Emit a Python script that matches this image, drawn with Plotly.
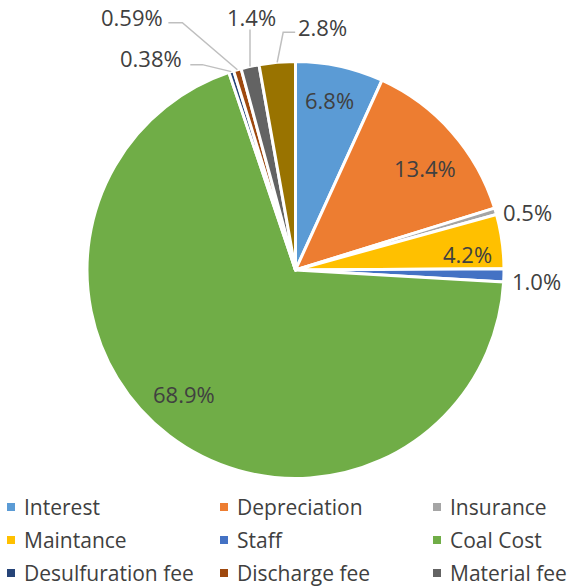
import math
import plotly.graph_objects as go

# Cost structure shares (%), listed clockwise from 12 o'clock
categories = ["Interest", "Depreciation", "Insurance", "Maintance", "Staff",
              "Coal Cost", "Desulfuration fee", "Discharge fee", "Material fee",
              "Other fee"]
shares = [6.8, 13.4, 0.5, 4.2, 1.0, 68.9, 0.38, 0.59, 1.4, 2.8]
share_labels = ["6.8%", "13.4%", "0.5%", "4.2%", "1.0%", "68.9%",
                "0.38%", "0.59%", "1.4%", "2.8%"]
legend_names = categories[:9]

colors = ["#5B9BD5", "#ED7D31", "#A5A5A5", "#FFC000", "#4472C4",
          "#70AD47", "#264478", "#9E480E", "#636363", "#997300"]

W, H = 577, 587
CX, CY, R = 295.5, 270.0, 208.5
TEXT = "#404040"
FONT = "Open Sans"

def px_x(x):
    return x / W

def px_y(y):
    return 1 - y / H

fig = go.Figure(go.Pie(
    labels=categories,
    values=shares,
    sort=False,
    direction="clockwise",
    rotation=0,
    marker=dict(colors=colors, line=dict(color="white", width=3)),
    textinfo="none",
    showlegend=False,
    domain=dict(x=[px_x(CX - R), px_x(CX + R)], y=[px_y(CY + R), px_y(CY - R)]),
))

# mid angle of every slice (degrees clockwise from 12 o'clock)
total = sum(shares)
mids = []
acc = 0.0
for v in shares:
    mids.append((acc + v / 2) / total * 360)
    acc += v

def polar(angle, r):
    a = math.radians(angle)
    return CX + r * math.sin(a), CY - r * math.cos(a)

annotations = []
shapes = []

# labels placed inside the larger slices, with small pixel nudges
inside = {0: (-1, -7), 1: (4, 8), 3: (7, 7), 5: (-10, -9)}
for i, (nx, ny) in inside.items():
    x, y = polar(mids[i], 0.8 * R)
    annotations.append(dict(
        x=px_x(x + nx), y=px_y(y + ny), xref="paper", yref="paper",
        text=share_labels[i], showarrow=False, xanchor="center", yanchor="middle",
        font=dict(family=FONT, size=22, color=TEXT)))

# callouts for the thin slices: label offset and leader-line bends,
# all relative to the point where the slice meets the rim
callouts = {
    2: dict(label=(32, 1), path=[]),
    4: dict(label=(33, 6), path=[]),
    6: dict(label=(-80, -14), path=[(-29, -7), (-41, -7)]),
    7: dict(label=(-105, -53), path=[(-55, -47), (-69, -47)]),
    8: dict(label=(1, -50), path=[(0, -37)]),
    9: dict(label=(45, -35), path=[(6, -30), (18, -30)]),
}
for i, c in callouts.items():
    ex, ey = polar(mids[i], R)
    lx, ly = c["label"]
    annotations.append(dict(
        x=px_x(ex + lx), y=px_y(ey + ly), xref="paper", yref="paper",
        text=share_labels[i], showarrow=False, xanchor="center", yanchor="middle",
        font=dict(family=FONT, size=22, color=TEXT)))
    if c["path"]:
        pts = [(ex, ey)] + [(ex + dx, ey + dy) for dx, dy in c["path"]]
        d = "M " + " L ".join(f"{px_x(px)} {px_y(py)}" for px, py in pts)
        shapes.append(dict(type="path", xref="paper", yref="paper", path=d,
                           line=dict(color="#BFBFBF", width=1.5)))

# legend: three columns of square swatches with names
col_x = [7, 220, 433]
row_y = [507, 540, 573]
sw = 8
for k, name in enumerate(legend_names):
    x0 = col_x[k % 3]
    yc = row_y[k // 3]
    shapes.append(dict(type="rect", xref="paper", yref="paper",
                       x0=px_x(x0), x1=px_x(x0 + sw),
                       y0=px_y(yc + sw / 2), y1=px_y(yc - sw / 2),
                       fillcolor=colors[k], line=dict(width=0)))
    annotations.append(dict(
        x=px_x(x0 + sw + 7), y=px_y(yc), xref="paper", yref="paper",
        text=name, showarrow=False, xanchor="left", yanchor="middle",
        font=dict(family=FONT, size=21, color=TEXT)))

fig.update_layout(
    width=W, height=H,
    margin=dict(l=0, r=0, t=0, b=0, autoexpand=False),
    paper_bgcolor="white", plot_bgcolor="white",
    annotations=annotations, shapes=shapes,
)

fig.write_html("out.html")
